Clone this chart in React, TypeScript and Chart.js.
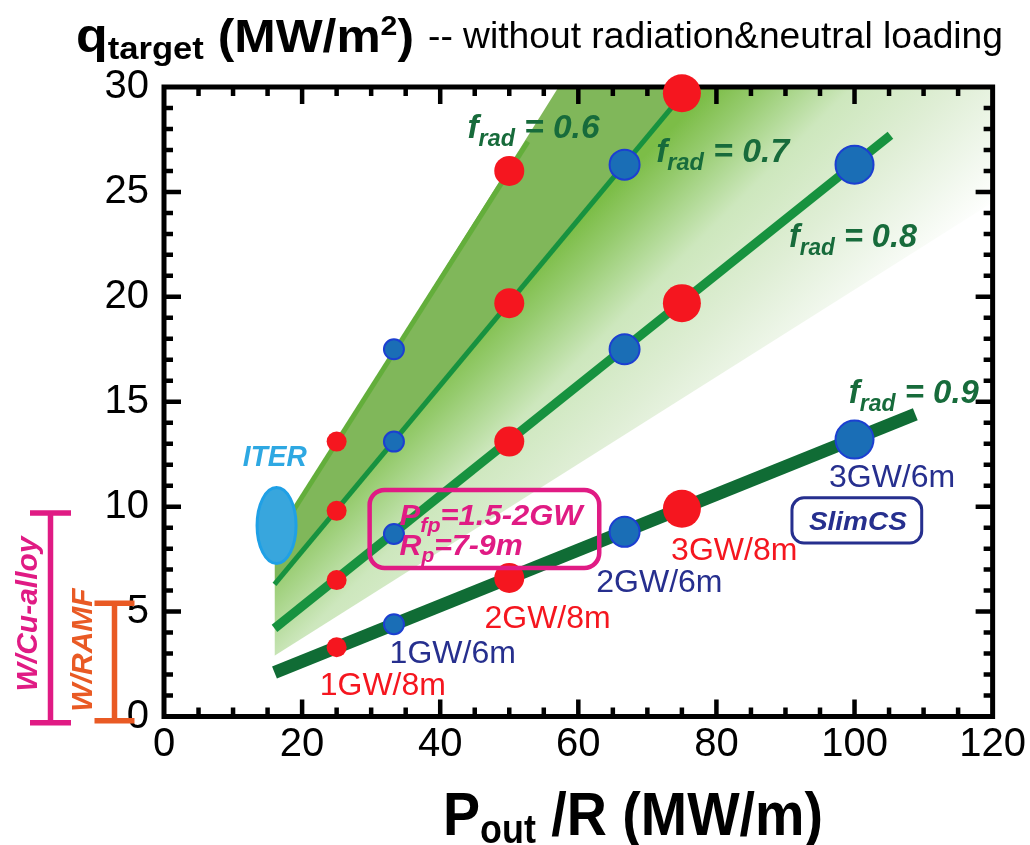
import React, { useEffect, useRef } from 'react';
import { Chart, registerables } from 'chart.js';

Chart.register(...registerables);

const FONT = "'Liberation Sans', Arial, Helvetica, sans-serif";

// axis ranges / ticks
const xRange = [0, 120];
const yRange = [0, 30];
const xStep = 20;
const yStep = 5;

// design points (P_out/R in MW/m, q_target in MW/m2)
const red8mX = [25, 25, 25, 25, 50, 50, 50, 50, 75, 75, 75];
const red8mY = [13.1, 9.8, 6.5, 3.3, 26.0, 19.7, 13.1, 6.6, 29.7, 19.7, 9.9];
const red8mGW = [1, 1, 1, 1, 2, 2, 2, 2, 3, 3, 3];
const blue6mX = [33.3, 33.3, 33.3, 33.3, 66.7, 66.7, 66.7, 100, 100];
const blue6mY = [17.5, 13.1, 8.7, 4.4, 26.3, 17.5, 8.8, 26.3, 13.2];
const blue6mGW = [1, 1, 1, 1, 2, 2, 2, 3, 3];

// f_rad lines
const frad06X = [16, 52.7];
const frad06Y = [8.4, 27.4];
const frad07X = [16, 75.5];
const frad07Y = [6.3, 29.8];
const frad08X = [16, 105.2];
const frad08Y = [4.2, 27.7];
const frad09X = [16, 108.8];
const frad09Y = [2.1, 14.4];

// shaded band boundaries
const bandX = [16, 120];
const band06Y = [8.4, 63.0];
const band07Y = [6.3, 47.3];
const bandLowY = [2.9, 24.5];

// ITER ellipse centre
const iterPos = [16.3, 9.1];

// allowable ranges (left side bars)
const cuAlloyRange = [-0.3, 9.7];
const ramfRange = [-0.2, 5.4];

const RED = '#f5161f';
const NAVY = '#262f8e';
const DKGREEN = '#176b3b';
const MAGENTA = '#e01b84';
const ORANGE = '#e95a24';

const gwRadius: Record<number, number> = { 1: 10, 2: 15, 3: 19 };

const fradLabels = [
  { v: '0.6', x: 43.95, y: 27.57, w: 132 },
  { v: '0.7', x: 71.27, y: 26.43, w: 133 },
  { v: '0.8', x: 90.5, y: 22.38, w: 128 },
  { v: '0.9', x: 99.18, y: 14.94, w: 130 },
];

const caseLabels = [
  { t: '1GW/8m', x: 22.55, y: 1.02, c: RED },
  { t: '1GW/6m', x: 32.67, y: 2.55, c: NAVY },
  { t: '2GW/8m', x: 46.41, y: 4.22, c: RED },
  { t: '2GW/6m', x: 62.6, y: 5.93, c: NAVY },
  { t: '3GW/8m', x: 73.44, y: 7.46, c: RED },
  { t: '3GW/6m', x: 96.3, y: 10.94, c: NAVY },
];

const pts = (xs: number[], ys: number[]) => xs.map((x, i) => ({ x, y: ys[i] }));

type Seg = { t: string; font: string; dy?: number };

function drawRich(ctx: CanvasRenderingContext2D, segs: Seg[], x: number, y: number, color: string, width?: number) {
  ctx.save();
  ctx.fillStyle = color;
  ctx.textBaseline = 'alphabetic';
  ctx.textAlign = 'left';
  let total = 0;
  const ws = segs.map((s) => {
    ctx.font = s.font;
    const w = ctx.measureText(s.t).width;
    total += w;
    return w;
  });
  const sx = width ? width / total : 1;
  ctx.translate(x, y);
  ctx.scale(sx, 1);
  let cx = 0;
  segs.forEach((s, i) => {
    ctx.font = s.font;
    ctx.fillText(s.t, cx, s.dy || 0);
    cx += ws[i];
  });
  ctx.restore();
}

const framePlugin = {
  id: 'frame',
  beforeDatasetDraw(chart: any, args: any) {
    if (args.index !== 7) return;
    const ctx = chart.ctx as CanvasRenderingContext2D;
    const a = chart.chartArea;
    const xs = chart.scales.x;
    const ys = chart.scales.y;
    ctx.save();
    ctx.strokeStyle = '#000';
    ctx.lineWidth = 5;
    ctx.strokeRect(a.left, a.top, a.right - a.left, a.bottom - a.top);
    ctx.lineWidth = 4.5;
    ctx.beginPath();
    for (let v = xRange[0] + 5; v < xRange[1]; v += 5) {
      const p = xs.getPixelForValue(v);
      const len = v % 20 === 0 ? 17 : 9;
      ctx.moveTo(p, a.bottom);
      ctx.lineTo(p, a.bottom - len);
      ctx.moveTo(p, a.top);
      ctx.lineTo(p, a.top + len);
    }
    for (let v = yRange[0] + 1; v < yRange[1]; v += 1) {
      const p = ys.getPixelForValue(v);
      const len = v % 5 === 0 ? 17 : 9;
      ctx.moveTo(a.left, p);
      ctx.lineTo(a.left + len, p);
      ctx.moveTo(a.right, p);
      ctx.lineTo(a.right - len, p);
    }
    ctx.stroke();
    ctx.restore();
  },
};

const annotationPlugin = {
  id: 'annotations',
  afterDatasetsDraw(chart: any) {
    const ctx = chart.ctx as CanvasRenderingContext2D;
    const xs = chart.scales.x;
    const ys = chart.scales.y;
    const X = (v: number) => xs.getPixelForValue(v);
    const Y = (v: number) => ys.getPixelForValue(v);
    ctx.save();

    // ITER ellipse
    ctx.beginPath();
    ctx.ellipse(X(iterPos[0]), Y(iterPos[1]), 19.5, 38, 0, 0, Math.PI * 2);
    ctx.fillStyle = '#38a6dd';
    ctx.fill();
    ctx.lineWidth = 3;
    ctx.strokeStyle = '#1fa0e6';
    ctx.stroke();
    drawRich(ctx, [{ t: 'ITER', font: `italic bold 29px ${FONT}` }], X(11.42), Y(11.94), '#2ea8e2', 64);

    // f_rad labels
    fradLabels.forEach((l) => {
      drawRich(
        ctx,
        [
          { t: 'f', font: `italic bold 33px ${FONT}` },
          { t: 'rad', font: `italic bold 23px ${FONT}`, dy: 8 },
          { t: ' = ' + l.v, font: `italic bold 33px ${FONT}` },
        ],
        X(l.x),
        Y(l.y),
        DKGREEN,
        l.w,
      );
    });

    // case labels
    caseLabels.forEach((l) => {
      drawRich(ctx, [{ t: l.t, font: `32px ${FONT}` }], X(l.x), Y(l.y), l.c);
    });

    // P_fp / R_p box
    ctx.beginPath();
    ctx.roundRect(X(29.78), Y(10.8), X(63.03) - X(29.78), Y(7.08) - Y(10.8), 15);
    ctx.lineWidth = 4.5;
    ctx.strokeStyle = MAGENTA;
    ctx.stroke();
    drawRich(
      ctx,
      [
        { t: 'P', font: `italic bold 29px ${FONT}` },
        { t: 'fp', font: `italic bold 20px ${FONT}`, dy: 7 },
        { t: '=1.5-2GW', font: `italic bold 29px ${FONT}` },
      ],
      X(34.12),
      Y(9.13),
      MAGENTA,
      183,
    );
    drawRich(
      ctx,
      [
        { t: 'R', font: `italic bold 29px ${FONT}` },
        { t: 'p', font: `italic bold 20px ${FONT}`, dy: 7 },
        { t: '=7-9m', font: `italic bold 29px ${FONT}` },
      ],
      X(34.12),
      Y(7.7),
      MAGENTA,
      123,
    );

    // SlimCS box
    ctx.beginPath();
    ctx.roundRect(X(90.94), Y(10.42), X(109.73) - X(90.94), Y(8.27) - Y(10.42), 12);
    ctx.lineWidth = 3;
    ctx.strokeStyle = NAVY;
    ctx.stroke();
    drawRich(ctx, [{ t: 'SlimCS', font: `italic bold 26px ${FONT}` }], X(93.39), Y(8.89), NAVY, 98);

    ctx.restore();
  },
  afterDraw(chart: any) {
    const ctx = chart.ctx as CanvasRenderingContext2D;
    const ys = chart.scales.y;
    const Y = (v: number) => ys.getPixelForValue(v);
    ctx.save();

    // title
    drawRich(
      ctx,
      [
        { t: 'q', font: `bold 48px ${FONT}` },
        { t: 'target', font: `bold 32px ${FONT}`, dy: 7 },
        { t: ' (MW/m', font: `bold 46px ${FONT}` },
        { t: '2', font: `bold 28px ${FONT}`, dy: -17 },
        { t: ')', font: `bold 46px ${FONT}` },
      ],
      76,
      52,
      '#000',
      338,
    );
    drawRich(ctx, [{ t: '-- without radiation&neutral loading', font: `36px ${FONT}` }], 428, 48, '#000', 575);

    // x-axis title
    drawRich(
      ctx,
      [
        { t: 'P', font: `bold 62px ${FONT}` },
        { t: 'out', font: `bold 40px ${FONT}`, dy: 8 },
        { t: ' /R (MW/m)', font: `bold 62px ${FONT}` },
      ],
      443,
      835,
      '#000',
      380,
    );

    // allowable heat load bars
    const bar = (xc: number, half: number, r: number[], color: string) => {
      ctx.strokeStyle = color;
      ctx.lineWidth = 5.5;
      ctx.beginPath();
      ctx.moveTo(xc, Y(r[0]));
      ctx.lineTo(xc, Y(r[1]));
      ctx.moveTo(xc - half, Y(r[0]));
      ctx.lineTo(xc + half, Y(r[0]));
      ctx.moveTo(xc - half, Y(r[1]));
      ctx.lineTo(xc + half, Y(r[1]));
      ctx.stroke();
    };
    bar(50.5, 20.5, cuAlloyRange, MAGENTA);
    bar(114.5, 20, ramfRange, ORANGE);

    const vtext = (t: string, bx: number, cy: number, color: string) => {
      ctx.save();
      ctx.translate(bx, cy);
      ctx.rotate(-Math.PI / 2);
      ctx.font = `italic bold 30px ${FONT}`;
      ctx.fillStyle = color;
      ctx.textAlign = 'center';
      ctx.textBaseline = 'alphabetic';
      ctx.fillText(t, 0, 0);
      ctx.restore();
    };
    vtext('W/Cu-alloy', 37, 614, MAGENTA);
    vtext('W/RAMF', 92, 650, ORANGE);

    ctx.restore();
  },
};

export default function App() {
  const ref = useRef<HTMLCanvasElement>(null);

  useEffect(() => {
    const canvas = ref.current;
    if (!canvas) return;

    const lightGradient = (c: any) => {
      const ch = c.chart;
      const a = ch.chartArea;
      if (!a) return 'rgba(0,0,0,0)';
      const g = ch.ctx.createLinearGradient(a.left + 436, a.top + 113, a.left + 636, a.top + 313);
      g.addColorStop(0, '#7cbd47');
      g.addColorStop(0.125, '#96cb6e');
      g.addColorStop(0.25, '#b4db9a');
      g.addColorStop(0.35, '#cde7bd');
      g.addColorStop(0.6, '#dfeed5');
      g.addColorStop(0.82, '#f0f7ec');
      g.addColorStop(1, '#ffffff');
      return g;
    };

    const lineDs = (xs: number[], ys: number[], color: string, width: number) => ({
      type: 'line',
      data: pts(xs, ys),
      borderColor: color,
      borderWidth: width,
      borderCapStyle: 'butt',
      pointRadius: 0,
      fill: false,
      order: 20,
    });

    const chart = new Chart(canvas, {
      type: 'line',
      data: {
        datasets: [
          {
            data: pts(bandX, band06Y),
            borderWidth: 0,
            borderColor: 'rgba(0,0,0,0)',
            pointRadius: 0,
            fill: '+1',
            backgroundColor: '#80b75a',
            order: 30,
          },
          {
            data: pts(bandX, band07Y),
            borderWidth: 0,
            borderColor: 'rgba(0,0,0,0)',
            pointRadius: 0,
            fill: '+1',
            backgroundColor: lightGradient,
            order: 29,
          },
          {
            data: pts(bandX, bandLowY),
            borderWidth: 0,
            borderColor: 'rgba(0,0,0,0)',
            pointRadius: 0,
            fill: false,
            order: 28,
          },
          lineDs(frad06X, frad06Y, '#63ae3b', 5),
          lineDs(frad07X, frad07Y, '#17923f', 5),
          lineDs(frad08X, frad08Y, '#17923f', 9),
          lineDs(frad09X, frad09Y, '#106c35', 13),
          {
            data: pts(red8mX, red8mY),
            showLine: false,
            pointRadius: red8mGW.map((g) => gwRadius[g]),
            pointBackgroundColor: RED,
            pointBorderWidth: 0,
            pointBorderColor: RED,
            clip: false,
            order: 2,
          },
          {
            data: pts(blue6mX, blue6mY),
            showLine: false,
            pointRadius: blue6mGW.map((g) => gwRadius[g]),
            pointBackgroundColor: '#1a6eb6',
            pointBorderWidth: 2,
            pointBorderColor: '#1c3fd1',
            clip: false,
            order: 1,
          },
        ] as any,
      },
      options: {
        responsive: false,
        animation: false,
        events: [],
        layout: { padding: { top: 87, right: 36, left: 0, bottom: 0 } },
        plugins: {
          legend: { display: false },
          tooltip: { enabled: false },
          title: { display: false },
        },
        scales: {
          x: {
            type: 'linear',
            min: xRange[0],
            max: xRange[1],
            grid: { display: false, drawTicks: false },
            border: { display: false },
            ticks: {
              stepSize: xStep,
              autoSkip: false,
              maxRotation: 0,
              padding: 4,
              color: '#000',
              font: { family: FONT, size: 40 },
            },
            afterFit: (s: any) => {
              s.height = 128.5;
            },
          },
          y: {
            type: 'linear',
            min: yRange[0],
            max: yRange[1],
            grid: { display: false, drawTicks: false },
            border: { display: false },
            ticks: {
              stepSize: yStep,
              autoSkip: false,
              padding: 15,
              color: '#000',
              font: { family: FONT, size: 40 },
            },
            afterFit: (s: any) => {
              s.width = 164;
            },
          },
        },
      } as any,
      plugins: [framePlugin, annotationPlugin],
    });

    return () => chart.destroy();
  }, []);

  return (
    <div style={{ position: 'absolute', left: 0, top: 0, width: 1030, height: 845 }}>
      <canvas ref={ref} width={1030} height={845} style={{ display: 'block' }} />
    </div>
  );
}
